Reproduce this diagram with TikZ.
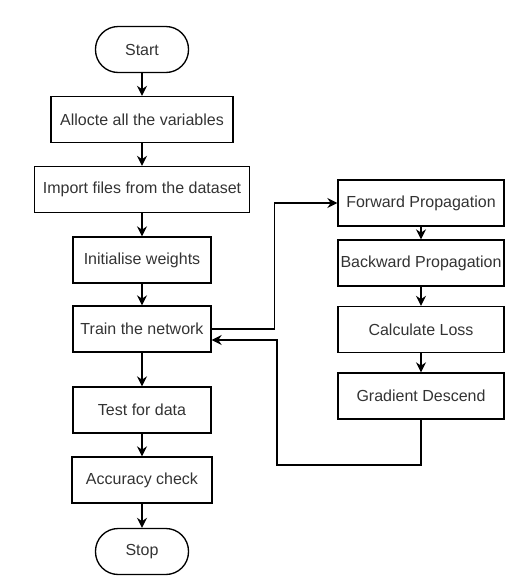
\documentclass[tikz,border=0pt]{standalone}
\usepackage{fontspec}
\setmainfont{Liberation Sans}
\usetikzlibrary{arrows.meta}

\begin{document}
\begin{tikzpicture}[x=0.75pt, y=-0.75pt,
        box/.style={draw, line width=1pt, minimum height=34.5pt, inner sep=0pt, text=black!80, font=\fontsize{12}{14}\selectfont},
        term/.style={box, rounded corners=17pt, minimum width=69.75pt},
        arr/.style={-{Stealth[length=7.5pt, width=7.5pt, inset=2.5pt]}, line width=1pt}]
        
        \useasboundingbox (0,0) rectangle (524,583);
        
        % Main column
        \node[term] (start) at (142,49.5) {Start};
        \node[box, minimum width=136.5pt] (alloc) at (142,119.5) {Allocte all the variables};
        \node[box, minimum width=161.25pt] (import) at (142,189.5) {Import files from the dataset};
        \node[box, minimum width=103.5pt] (init) at (142,260) {Initialise weights};
        \node[box, minimum width=103.5pt] (train) at (142,329) {Train the network};
        \node[box, minimum width=103.5pt] (test) at (142,410) {Test for data};
        \node[box, minimum width=105pt] (acc) at (142,480) {Accuracy check};
        \node[term] (stop) at (142,551.5) {Stop};
        
        % Training loop
        \node[box, minimum width=124.5pt] (fwd) at (421,203) {Forward Propagation};
        \node[box, minimum width=124.5pt] (bwd) at (421,263) {Backward Propagation};
        \node[box, minimum width=124.5pt] (loss) at (421,329.5) {Calculate Loss};
        \node[box, minimum width=124.5pt] (grad) at (421,396) {Gradient Descend};
        
        \coordinate (trainin) at (train.east |- 0,340); % Return point
        
        \draw[arr] (start) -- (alloc);
        \draw[arr] (alloc) -- (import);
        \draw[arr] (import) -- (init);
        \draw[arr] (init) -- (train);
        \draw[arr] (train) -- (test);
        \draw[arr] (test) -- (acc);
        \draw[arr] (acc) -- (stop);
        
        \draw[arr] (train.east) -- ++(63,0) |- (fwd.west);
        \draw[arr] (fwd) -- (bwd);
        \draw[arr] (bwd) -- (loss);
        \draw[arr] (loss) -- (grad);
        \draw[arr] (grad.south) |- (277,465) |- (trainin);
        
        \end{tikzpicture}
\end{document}
